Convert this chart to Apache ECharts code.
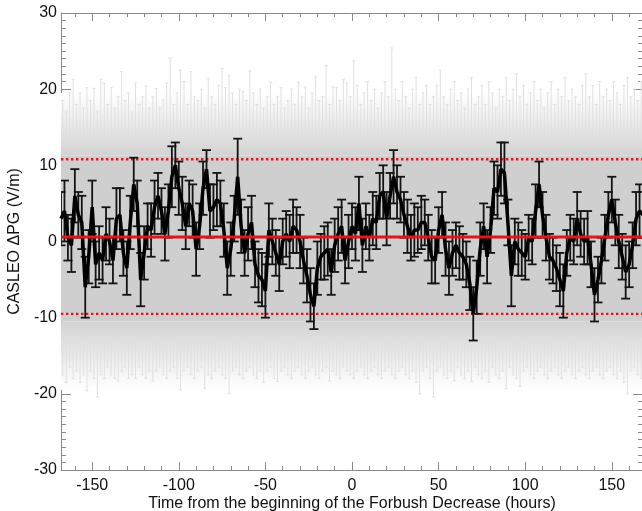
<!DOCTYPE html>
<html><head><meta charset="utf-8">
<script src="https://cdn.jsdelivr.net/npm/echarts@6/dist/echarts.min.js"></script>
<style>html,body{margin:0;padding:0;background:#fff}#c{width:642px;height:511px}</style>
</head><body><div id="c"></div>
<script>
// ---- data ----
const hourStart = -168, hourStep = 2;           // time grid of the CASLEO series (hours)
const pg = [
  3,4,0.5,-0.5,6,3.5,2.5,-6,-2,4.5,
  -3,-1.5,-2.5,1,0,-2.5,3,3.5,-1.5,-3.5,
  2.5,7.5,5,-5,-1.5,2,1.5,4.5,6,4,
  1,4,8.5,10,7,5,2,5,4,-1,
  2,7,9.5,4,4.5,5.5,5,1.5,-3.5,-1,
  3,8.5,2,-1.5,1,2.5,-3,-4.5,-5,-6.5,
  1.5,0,-1.5,-3,0,1,0,2,1.5,0,
  -2.5,-4.5,-7,-8.5,-3.5,-2,-1.5,-1,-4,-0.5,
  1,2,-2.5,0,2,1,5,-0.5,2,0.5,
  3,2.5,6,6.5,3,6,8.5,6.5,5.5,3.5,
  2,0.5,1.5,1.5,2.5,2.5,0.5,-2,-2.5,1.5,
  3.5,-1,-3.5,-1.5,-0.5,-1.5,-2,-3,-5.5,-9.5,
  -6,-1,2,-2,1.5,7,6.5,9.5,9,2.5,
  -4.5,0,-1,-1.5,-2,0.5,0,4,7.5,3.5,
  0.5,-2,-2.5,-3.5,-5,-6.5,-1.5,0.5,0,3,
  1,0,0.5,-3,-7,-5,-2.5,0.5,3.5,5.5,
  2.5,0,-2,-4,-3,-0.5,3,4,3.5
];
const pgErr = [
  3.5,4,3,3.5,3.5,3,3.5,4,3.5,3.5,
  3,3.5,3,3.5,3,3,4,3.5,3,3.5,
  3.5,3.5,3,3.5,3.5,3,3.5,3.5,3,3,
  3.5,3.5,4,3,3.5,3.5,3,3,3.5,3.5,
  3,3.5,2.5,3.5,3,3.5,3,3.5,3.5,3.5,
  3,5,3.5,3,3.5,3.5,3,3.5,3.5,3.5,
  3.5,3,3,3.5,3,3,3.5,3.5,3,3.5,
  3,3.5,3.5,3,3.5,3,3.5,3.5,3,3.5,
  3.5,3.5,3,3.5,3,3.5,3.5,3.5,3,3,
  3.5,3.5,3,3.5,3.5,3,3.5,3.5,3,3,
  3.5,3,3.5,3,3.5,3,3,3.5,3,3,
  3,3.5,3.5,3,3,3.5,3,3,3.5,3.5,
  3.5,3.5,3,3.5,3,3.5,3.5,3.5,4,3,
  4,3,3.5,3,3,3,3,3.5,3,3,
  3,3,3,3,3.5,3.5,3,3,3,3.5,
  3,3,3.5,3,3.5,3,3,3,3,3,
  3,3.5,3,3.5,3,3,3.5,3.5,3
];
const meanLevel = 0.6;
const upperLevel = 10.8;
const lowerLevel = -9.5;
// envelope of the grey random realisations
const bandTop = 11.3, bandBottom = -10.5;
const haloTop = 19.5, haloBottom = -19.5;
const spikeStart = -167, spikeStep = 2;
const spikeTop = [
  18.5,17,19.5,21.3,18,19.5,17.5,20.2,18.5,20.1,
  17,21.3,20.8,18,20.2,17.5,19,22.3,18.5,19.5,
  17,20.8,18,19,20.4,17.5,19,20.1,17.5,18.6,
  20.8,24.1,18,19.5,22.5,21,18,22.3,19,18.5,
  20,17.5,21.4,19,18,20.5,22.7,20.2,21.8,19.5,
  18,20,19.7,18.5,22.4,19.5,18,20,17.5,19,
  20.9,18,19,20.2,17.5,18.5,20,18,20.9,19,
  20.3,17.5,19.5,21.6,18.5,19,23.1,18,20.3,20.2,
  18.5,21.3,20.8,19,23.7,20.5,18,19.5,21,18.5,
  20,17.5,19.5,21,19,25.4,20,18.5,21,19,
  17.5,20,21.5,18,19.5,20.5,18,19,20.5,22.5,
  19,18,20,21,18.5,19.5,17.5,20,21.5,18,
  19,20.5,18,21,19.5,17.5,20,19,21.5,18.5,
  20,22,19,20.5,18,19.5,21,18.5,20,17.5,
  19.5,21,18,20,19,21.5,18.5,20,19,18,
  20.5,22,19,20.5,18,21,19,20,18.5,21,
  19.5,18,20.5,21.5,19,20,18.5,21
];
const spikeBottom = [
  -17.5,-18.5,-16.5,-18,-17,-18.5,-17.5,-19.6,-17,-18,
  -20.4,-17.5,-18,-16.5,-17.5,-18,-18.3,-17,-16.5,-18,
  -17.5,-18,-16.5,-17.5,-18,-17,-18.3,-17,-16.5,-17.5,
  -18,-17,-16.5,-18,-19.5,-17,-16.5,-17.5,-18,-17,
  -16.5,-19.3,-17.5,-18,-17,-16.5,-17.5,-18,-20,-17,
  -16.5,-17.5,-18,-17,-16.5,-17.5,-18,-17,-18.5,-17,
  -16.5,-18,-18.4,-17,-16.5,-17.5,-18,-17,-16.5,-17.5,
  -18,-17,-16.5,-17.5,-18,-17,-16.5,-18.3,-17,-17.5,
  -18,-16.5,-17,-17.5,-18,-17,-16.5,-17.5,-18,-17,
  -16.5,-17.5,-18,-17,-16.5,-17.5,-18,-17,-16.5,-17.5,
  -18,-17,-18.5,-20,-17,-16.5,-18,-20.4,-17,-16.5,
  -17.5,-18,-17,-18.3,-16.5,-17.5,-18,-17,-18.4,-16.5,
  -17.5,-18,-17,-18.5,-16.5,-17.5,-18,-17,-19.3,-16.5,
  -17.5,-18,-19,-17,-16.5,-17.5,-18,-17,-16.5,-17.5,
  -18,-17,-16.5,-17.5,-18,-17,-16.5,-17.5,-18,-17,
  -16.5,-17.5,-18,-17,-16.5,-17.5,-18,-17,-16.5,-17.5,
  -18,-17,-18.5,-20,-17,-16.5,-17.5,-18
];
const xRange = [-168, 168];
const yRange = [-30, 30];
const xTitle = 'Time from the beginning of the Forbush Decrease (hours)';
const yTitle = 'CASLEO \u0394PG (V/m)';

// ---- build ----
const hours = pg.map((_, i) => hourStart + i * hourStep);
const lineData = pg.map((v, i) => [hours[i], v]);
const errData = pg.map((v, i) => [hours[i], v - pgErr[i], v + pgErr[i]]);
const spikeData = [];
spikeTop.forEach((v, i) => spikeData.push([spikeStart + i * spikeStep, bandTop + 2, v]));
spikeBottom.forEach((v, i) => spikeData.push([spikeStart + i * spikeStep, bandBottom - 2, v]));
const bandData = [
  [xRange[0], xRange[1], bandTop, haloTop, 'up'],
  [xRange[0], xRange[1], haloBottom, bandBottom, 'down'],
  [xRange[0], xRange[1], bandBottom, bandTop, 'flat']
];

const FONT = '"Liberation Sans", Arial, Helvetica, sans-serif';
const AX = '#8a8a8a';
const gradUp = {type:'linear', x:0, y:0, x2:0, y2:1, colorStops:[
  {offset:0, color:'#ffffff'},{offset:0.3, color:'#f3f3f3'},{offset:0.6, color:'#e4e4e4'},
  {offset:0.85, color:'#d9d9d9'},{offset:1, color:'#d3d3d3'}]};
const gradDown = {type:'linear', x:0, y:0, x2:0, y2:1, colorStops:[
  {offset:0, color:'#d3d3d3'},{offset:0.15, color:'#d9d9d9'},{offset:0.4, color:'#e4e4e4'},
  {offset:0.7, color:'#f3f3f3'},{offset:1, color:'#ffffff'}]};

function axisCommon(extra) {
  return Object.assign({
    type: 'value',
    axisLine: {show: true, onZero: false, lineStyle: {color: AX, width: 1}},
    splitLine: {show: false},
  }, extra);
}

const chart = echarts.init(document.getElementById('c'), null, {renderer: 'canvas'});
chart.setOption({
  animation: false,
  backgroundColor: '#fff',
  grid: {left: 61, top: 13, width: 582, height: 457, containLabel: false, outerBoundsMode: 'none'},
  xAxis: [
    axisCommon({
      min: xRange[0], max: xRange[1], position: 'bottom',
      axisTick: {inside: true, length: 8, lineStyle: {color: AX}},
      minorTick: {show: true, splitNumber: 5, length: 4, lineStyle: {color: AX}},
      axisLabel: {showMinLabel: false, showMaxLabel: false, color: '#111', fontSize: 16, fontFamily: FONT, margin: 8},
      name: xTitle, nameLocation: 'middle', nameGap: 26, nameMoveOverlap: false,
      nameTextStyle: {color: '#111', fontSize: 16, fontFamily: FONT}
    }),
    axisCommon({
      min: xRange[0], max: xRange[1], position: 'top',
      axisTick: {inside: true, length: 8, lineStyle: {color: AX}},
      minorTick: {show: true, splitNumber: 5, length: 4, lineStyle: {color: AX}},
      axisLabel: {show: false}
    })
  ],
  yAxis: [
    axisCommon({
      min: yRange[0], max: yRange[1], interval: 10, position: 'left',
      axisTick: {inside: true, length: 10, lineStyle: {color: AX}},
      minorTick: {show: true, splitNumber: 10, length: 5, lineStyle: {color: AX}},
      axisLabel: {color: '#111', fontSize: 16, fontFamily: FONT, margin: 4},
      name: yTitle, nameLocation: 'middle', nameGap: 38,
      nameTextStyle: {color: '#111', fontSize: 16, fontFamily: FONT}
    }),
    axisCommon({
      min: yRange[0], max: yRange[1], interval: 10, position: 'right',
      axisTick: {inside: true, length: 10, lineStyle: {color: AX}},
      minorTick: {show: true, splitNumber: 10, length: 5, lineStyle: {color: AX}},
      axisLabel: {show: false}
    })
  ],
  series: [
    { // grey envelope bands
      type: 'custom', z: 1, silent: true, clip: true,
      data: bandData,
      encode: {x: [0, 1], y: [2, 3]},
      renderItem: (params, api) => {
        const d = bandData[params.dataIndex];
        const p0 = api.coord([d[0], d[3]]);
        const p1 = api.coord([d[1], d[2]]);
        const fill = d[4] === 'up' ? gradUp : d[4] === 'down' ? gradDown : '#cfcfcf';
        return {type: 'rect', shape: {x: p0[0], y: p0[1], width: p1[0] - p0[0], height: p1[1] - p0[1]},
                style: {fill: fill}, z2: d[4] === 'flat' ? 5 : 0};
      }
    },
    { // grey spikes of the realisations
      type: 'custom', z: 1, silent: true, clip: true,
      data: spikeData,
      encode: {x: 0, y: [1, 2]},
      renderItem: (params, api) => {
        const x = api.value(0);
        const a = api.coord([x, api.value(1)]);
        const b = api.coord([x, api.value(2)]);
        return {type: 'group', z2: 2, children: [
          {type: 'line', shape: {x1: a[0], y1: a[1], x2: b[0], y2: b[1]}, style: {stroke: '#e0e0e0', lineWidth: 1}},
          {type: 'line', shape: {x1: b[0] - 1.5, y1: b[1], x2: b[0] + 1.5, y2: b[1]}, style: {stroke: '#e0e0e0', lineWidth: 1}}
        ]};
      }
    },
    { // upper dotted limit
      type: 'line', z: 3, silent: true, symbol: 'none',
      data: [[xRange[0], upperLevel], [xRange[1], upperLevel]],
      lineStyle: {color: '#e3151b', width: 2.4, type: [2.4, 2.6]}
    },
    { // lower dotted limit
      type: 'line', z: 3, silent: true, symbol: 'none',
      data: [[xRange[0], lowerLevel], [xRange[1], lowerLevel]],
      lineStyle: {color: '#e3151b', width: 2.4, type: [2.4, 2.6]}
    },
    { // error bars
      type: 'custom', z: 4, silent: true, clip: true,
      data: errData,
      encode: {x: 0, y: [1, 2]},
      renderItem: (params, api) => {
        const x = api.value(0);
        const lo = api.coord([x, api.value(1)]);
        const hi = api.coord([x, api.value(2)]);
        const cw = 4.5;
        const st = {stroke: '#141414', lineWidth: 1.8};
        return {type: 'group', children: [
          {type: 'line', shape: {x1: lo[0], y1: lo[1], x2: hi[0], y2: hi[1]}, style: st},
          {type: 'line', shape: {x1: lo[0] - cw, y1: lo[1], x2: lo[0] + cw, y2: lo[1]}, style: st},
          {type: 'line', shape: {x1: hi[0] - cw, y1: hi[1], x2: hi[0] + cw, y2: hi[1]}, style: st}
        ]};
      }
    },
    { // CASLEO PG line
      type: 'line', z: 5, silent: true, symbol: 'none',
      data: lineData,
      lineStyle: {color: '#000', width: 3.5}
    },
    { // mean level
      type: 'line', z: 6, silent: true, symbol: 'none',
      data: [[xRange[0], meanLevel], [xRange[1], meanLevel]],
      lineStyle: {color: '#e3151b', width: 3}
    }
  ]
});
</script>
</body></html>
